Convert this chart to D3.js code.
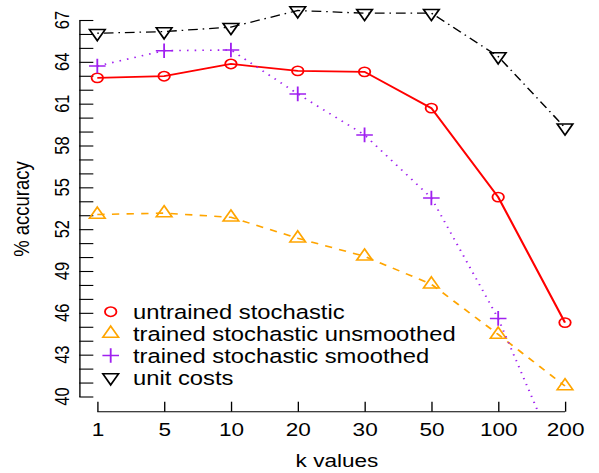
<!DOCTYPE html>
<html lang="en">
<head>
  <meta charset="UTF-8">
  <title>% accuracy by k</title>
  <script src="https://d3js.org/d3.v7.min.js"></script>
  <style>
    body { margin: 0; background: #fff; }
    svg { display: block; }
    text { font-family: "Liberation Sans", Arial, Helvetica, sans-serif; fill: #000; }
  </style>
</head>
<body>
<div id="chart"></div>
<script>
// data
const kValues = ["1", "5", "10", "20", "30", "50", "100", "200"];
const untrained = [62.85, 62.97, 63.85, 63.35, 63.28, 60.68, 54.3, 45.3];
const unsmoothed = [53.05, 53.15, 52.85, 51.35, 50.05, 48.05, 44.45, 40.75];
const smoothed = [63.7, 64.8, 64.85, 61.7, 58.76, 54.24, 45.6, 34.4];
const unitCosts = [66.05, 66.17, 66.49, 67.68, 67.49, 67.49, 64.38, 59.28];
const yTicks = [40, 43, 46, 49, 52, 55, 58, 61, 64, 67];
const legendLabels = ["untrained stochastic", "trained stochastic unsmoothed",
  "trained stochastic smoothed", "unit costs"];

// the picture is stretched sideways, so draw in a narrower box and stretch it
const SX = 1.22;
const W = 599 / SX, H = 473;

const svg = d3.select("#chart").append("svg")
  .attr("width", 599).attr("height", H)
  .attr("viewBox", `0 0 ${W} ${H}`)
  .attr("preserveAspectRatio", "none");

const x = d3.scalePoint().domain(kValues).range([97.3 / SX, 565 / SX]);
const y = d3.scaleLinear().domain([40, 67]).range([396.5, 20]);

const axisX = 79.3 / SX, axisY = 411.7;

svg.append("defs").append("clipPath").attr("id", "plotclip")
  .append("rect").attr("x", axisX).attr("y", 0)
  .attr("width", W - axisX).attr("height", axisY);

// y axis, ticks point inwards, a tick every unit but labels every 3
const gy = svg.append("g").attr("transform", `translate(${axisX},0)`)
  .call(d3.axisLeft(y).tickValues(d3.range(40, 68)).tickSizeInner(-11.5).tickSizeOuter(0).tickFormat(""));
gy.selectAll("path, line").attr("stroke", "#000").attr("stroke-width", 1.1);

svg.append("g").selectAll("text").data(yTicks).join("text")
  .attr("transform", d => `translate(${62 / SX},${y(d)}) rotate(-90)`)
  .attr("text-anchor", "middle")
  .attr("dy", "0.36em")
  .style("font-size", "16.5px")
  .text(d => d);

// x axis
const gx = svg.append("g").attr("transform", `translate(0,${axisY})`)
  .call(d3.axisBottom(x).tickSizeInner(-10).tickSizeOuter(0).tickPadding(11.5));
gx.selectAll("path, line").attr("stroke", "#000").attr("stroke-width", 1.1);
gx.select(".domain").attr("d", `M${x("1")},0H${x("200")}`);
gx.selectAll("text").style("font-size", "18.5px").attr("fill", "#000")
  .attr("font-family", null);

// axis titles
svg.append("text")
  .attr("x", 337 / SX).attr("y", 467)
  .attr("text-anchor", "middle")
  .style("font-size", "18.5px")
  .text("k values");

svg.append("text")
  .attr("transform", `translate(${21 / SX},209) rotate(-90)`)
  .attr("text-anchor", "middle")
  .attr("dy", "0.36em")
  .style("font-size", "18.5px")
  .text("% accuracy");

// markers
function triangle(r, down) {
  const s = down ? -1 : 1;
  return `M0,${-s * r}L${0.866 * r},${s * r / 2}L${-0.866 * r},${s * r / 2}Z`;
}
function drawMarker(g, kind, cx, cy, color) {
  if (kind === "circle") {
    g.append("circle").attr("cx", cx).attr("cy", cy).attr("r", 4.7)
      .attr("fill", "none").attr("stroke", color).attr("stroke-width", 1.5);
  } else if (kind === "up" || kind === "down") {
    g.append("path").attr("d", triangle(7.4, kind === "down"))
      .attr("transform", `translate(${cx},${cy})`)
      .attr("fill", "none").attr("stroke", color).attr("stroke-width", 1.5);
  } else {
    g.append("path").attr("d", "M-6.8,0H6.8M0,-7.3V7.3")
      .attr("transform", `translate(${cx},${cy})`)
      .attr("fill", "none").attr("stroke", color).attr("stroke-width", 1.5);
  }
}

const series = [
  { values: untrained, color: "#FF0000", dash: null, width: 1.8, marker: "circle" },
  { values: unsmoothed, color: "#FFA500", dash: "6,6", width: 1.6, marker: "up" },
  { values: smoothed, color: "#A020F0", dash: "1.3,5", width: 1.6, marker: "plus" },
  { values: unitCosts, color: "#000000", dash: "1.3,4,8,4", width: 1.3, marker: "down" }
];

const line = d3.line().x((d, i) => x(kValues[i])).y(d => y(d));
const plot = svg.append("g").attr("clip-path", "url(#plotclip)");

series.forEach(s => {
  plot.append("path")
    .attr("d", line(s.values))
    .attr("fill", "none")
    .attr("stroke", s.color)
    .attr("stroke-width", s.width)
    .attr("stroke-dasharray", s.dash);
  s.values.forEach((v, i) => drawMarker(plot, s.marker, x(kValues[i]), y(v), s.color));
});

// legend, no box
const legend = svg.append("g");
const rowY = [311.7, 333.5, 355.5, 377.5];
series.forEach((s, i) => {
  drawMarker(legend, s.marker, 110.7 / SX, rowY[i], s.color);
  legend.append("text")
    .attr("x", 133 / SX).attr("y", rowY[i])
    .attr("dy", "0.36em")
    .style("font-size", "19.5px")
    .text(legendLabels[i]);
});
</script>
</body>
</html>
